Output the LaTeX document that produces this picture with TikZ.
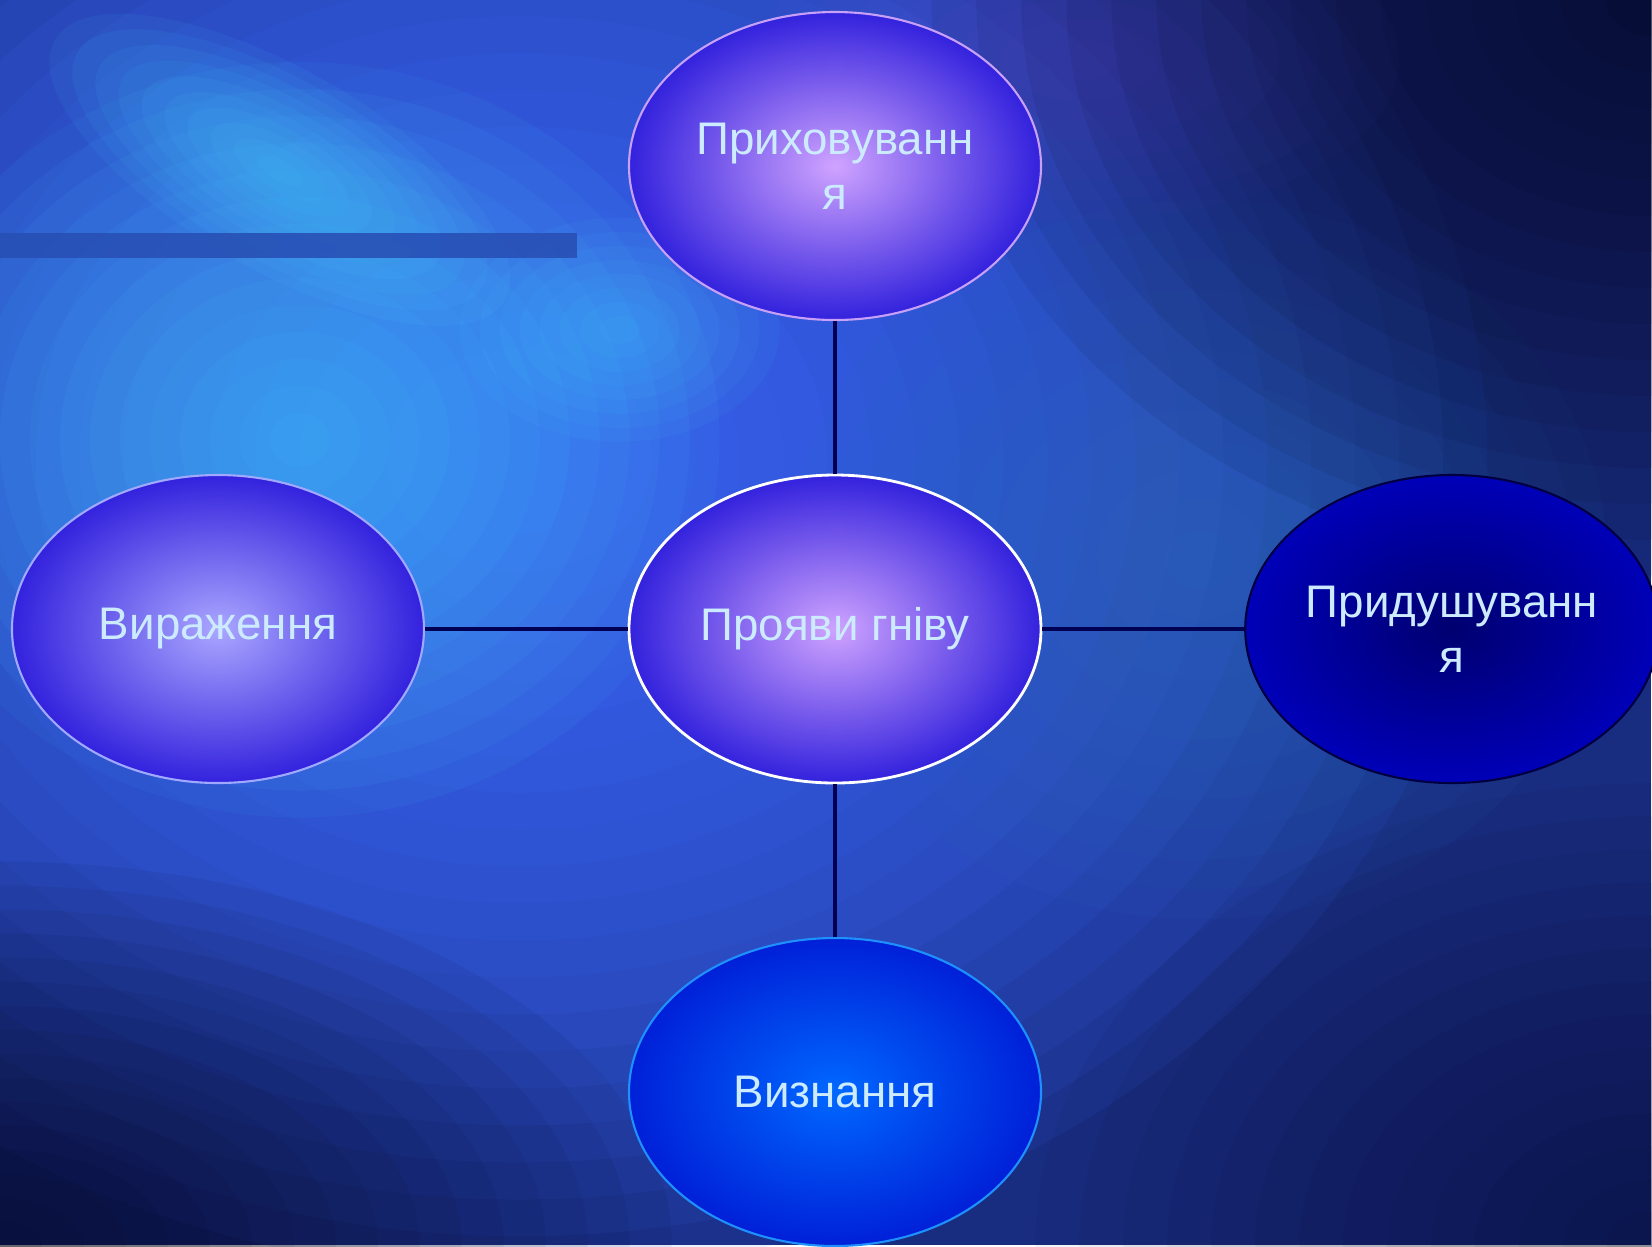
\documentclass[tikz,border=0pt]{standalone}
\usepackage{fontspec}
\setmainfont{Liberation Sans}
\usetikzlibrary{shapes.geometric, positioning}
\definecolor{textcyan}{HTML}{CCEBFF}
\definecolor{lilaclight}{HTML}{CFA3FF}
\definecolor{lavlight}{HTML}{AAA6FF}
\definecolor{violetdeep}{HTML}{3322DD}
\definecolor{lilacedge}{HTML}{C8A0F8}
\definecolor{lavedge}{HTML}{A0A8FF}
\definecolor{navyin}{HTML}{000070}
\definecolor{navyout}{HTML}{0000B8}
\definecolor{navyedge}{HTML}{000040}
\definecolor{azurein}{HTML}{0068FF}
\definecolor{azureout}{HTML}{0020D8}
\definecolor{azureedge}{HTML}{1E90FF}
\definecolor{navyline}{HTML}{000055}
\definecolor{bgnavy}{HTML}{182C80}
\definecolor{bgblue}{HTML}{3F6CFF}
\definecolor{bgcyan}{HTML}{48D4FF}
\definecolor{bgteal}{HTML}{2A70B8}
\definecolor{bgdark}{HTML}{06061E}
\definecolor{bgpurple}{HTML}{6A50E0}
\definecolor{barblue}{HTML}{2850B5}
\tikzstyle{bubble} = [ellipse, minimum width=4.12cm, minimum height=3.08cm, inner sep=0pt, align=center, text=textcyan, font=\fontsize{13}{15.6}\selectfont, shading=radial]
\tikzstyle{topbubble} = [bubble, inner color=lilaclight, outer color=violetdeep, draw=lilacedge, line width=0.6pt]
\tikzstyle{mainbubble} = [bubble, inner color=lilaclight, outer color=violetdeep, draw=white, line width=0.8pt]
\tikzstyle{sidebubble} = [bubble, inner color=lavlight, outer color=violetdeep, draw=lavedge, line width=0.6pt]
\tikzstyle{darkbubble} = [bubble, inner color=navyin, outer color=navyout, draw=navyedge, line width=0.6pt]
\tikzstyle{brightbubble} = [bubble, inner color=azurein, outer color=azureout, draw=azureedge, line width=0.6pt]
\tikzstyle{link} = [line width=1.4pt, draw=navyline]

\begin{document}
\begin{tikzpicture}[node distance=4.63cm]
\useasboundingbox (-8.35,-6.17) rectangle (8.17,6.29);

% background, in pixel units
\begin{scope}[shift={(-8.35,6.29)}, x=0.01cm, y=-0.01cm]
\fill[bgnavy] (0,0) rectangle (1652,1246);
\foreach \k in {1,...,22}
  \fill[bgblue, opacity=0.09] (520,460) ellipse ({44*\k} and {37*\k});
\foreach \k in {1,...,12}
  \fill[bgteal, opacity=0.06] (1200,560) ellipse ({34*\k} and {30*\k});
\foreach \k in {1,...,14}
  \fill[bgcyan, opacity=0.06] (300,440) ellipse ({30*\k} and {27*\k});
\foreach \k in {1,...,10}
  \fill[bgcyan, opacity=0.07, rotate around={-30:(280,170)}] (280,170) ellipse ({26*\k} and {10*\k});
\foreach \k in {1,...,8}
  \fill[bgcyan, opacity=0.06] (620,330) ellipse ({20*\k} and {14*\k});
\foreach \k in {1,...,8}
  \fill[bgpurple, opacity=0.06] (1080,60) ellipse ({40*\k} and {20*\k});
\foreach \k in {1,...,16}
  \fill[bgdark, opacity=0.07] (1652,0) ellipse ({45*\k} and {36*\k});
\foreach \k in {1,...,16}
  \fill[bgdark, opacity=0.06] (0,1246) ellipse ({42*\k} and {24*\k});
\foreach \k in {1,...,14}
  \fill[bgdark, opacity=0.045] (1652,1246) ellipse ({44*\k} and {33*\k});
\fill[barblue, opacity=0.9] (0,233) rectangle (577,258);
\end{scope}

\node (anger) [mainbubble] {Прояви гніву};
\node (hiding) [topbubble, above of=anger] {Приховуванн\\я};
\node (expression) [sidebubble, left of=anger, node distance=6.17cm] {Вираження};
\node (suppression) [darkbubble, right of=anger, node distance=6.17cm] {Придушуванн\\я};
\node (admission) [brightbubble, below of=anger] {Визнання};

\draw [link] (anger) -- (hiding);
\draw [link] (anger) -- (expression);
\draw [link] (anger) -- (suppression);
\draw [link] (anger) -- (admission);
\end{tikzpicture}
\end{document}
